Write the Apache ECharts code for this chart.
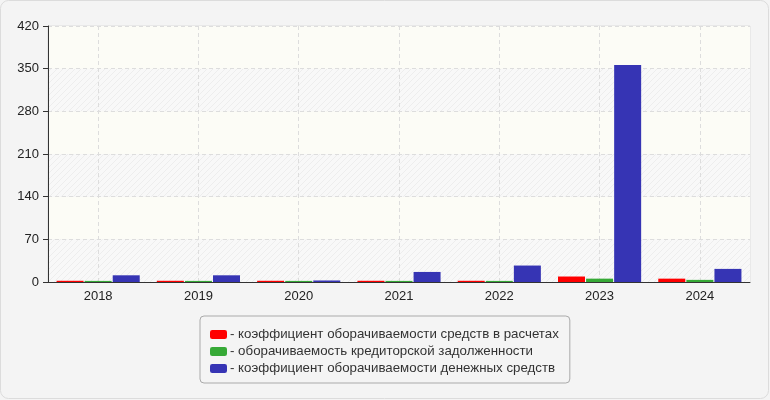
<!DOCTYPE html>
<html>
<head>
<meta charset="utf-8">
<script src="https://cdn.jsdelivr.net/npm/echarts@6/dist/echarts.min.js"></script>
<style>
  html, body { margin: 0; padding: 0; background: #f4f4f4; }
  #chart { width: 770px; height: 400px; }
</style>
</head>
<body>
<div id="chart"></div>
<script>
var years = ["2018", "2019", "2020", "2021", "2022", "2023", "2024"];
var names = [
  "коэффициент оборачиваемости средств в расчетах",
  "оборачиваемость кредиторской задолженности",
  "коэффициент оборачиваемости денежных средств"
];
var receivables = [2, 2, 2, 2, 2, 9, 5.5];
var payables = [1.8, 1.8, 1.8, 1.8, 1.8, 5.5, 3.5];
var cash = [11, 11, 2.5, 16.5, 27, 356, 21.5];
var colors = ["#ff0000", "#36a936", "#3634b4"];

// hatched fill for every other band
var hatch = document.createElement("canvas");
hatch.width = 6; hatch.height = 6;
var hc = hatch.getContext("2d");
hc.fillStyle = "#f8f8f8";
hc.fillRect(0, 0, 6, 6);
hc.strokeStyle = "#ededed";
hc.lineWidth = 1;
hc.beginPath();
hc.moveTo(0, 6); hc.lineTo(6, 0);
hc.moveTo(-3, 3); hc.lineTo(3, -3);
hc.moveTo(3, 9); hc.lineTo(9, 3);
hc.stroke();

var chart = echarts.init(document.getElementById("chart"));
var font = "Arial, 'Liberation Sans', sans-serif";

function bar(i, data) {
  return {
    name: names[i],
    type: "bar",
    data: data,
    barWidth: 27,
    barGap: "4%",
    itemStyle: { color: colors[i] },
    animation: false
  };
}

var option = {
  backgroundColor: "#f4f4f4",
  textStyle: { fontFamily: font },
  graphic: [{
    type: "rect",
    shape: { x: 0.5, y: 0.5, width: 768, height: 398, r: 8 },
    style: { fill: "none", stroke: "#dcdcdc", lineWidth: 1 },
    z: -1
  }],
  grid: {
    left: 48, right: 20, top: 26, bottom: 118,
    show: true, borderColor: "#dddddd", borderWidth: 1,
    backgroundColor: "transparent"
  },
  legend: {
    orient: "vertical",
    left: 200, top: 316,
    width: 368,
    padding: [12, 11, 8, 10],
    itemWidth: 17, itemHeight: 9,
    itemGap: 4,
    borderColor: "#aaaaaa", borderWidth: 1, borderRadius: 4,
    backgroundColor: "#f4f4f4",
    icon: "roundRect",
    itemStyle: { borderWidth: 0 },
    formatter: "- {name}",
    textStyle: { color: "#333", fontSize: 13.3, fontFamily: font, padding: [0, 0, 0, -2] },
    data: names
  },
  xAxis: {
    type: "category",
    data: years,
    axisLine: { lineStyle: { color: "#333", width: 1 } },
    axisTick: { alignWithLabel: true, length: 5, lineStyle: { color: "#333" } },
    axisLabel: { color: "#222", fontSize: 13, margin: 8 },
    splitLine: { show: true, alignWithLabel: true, lineStyle: { color: "#dddddd", type: [4, 3] } }
  },
  yAxis: {
    type: "value",
    min: 0, max: 420, interval: 70,
    axisLine: { show: true, lineStyle: { color: "#333", width: 1 } },
    axisTick: { show: true, length: 5, lineStyle: { color: "#333" } },
    axisLabel: { color: "#222", fontSize: 13, margin: 9 },
    splitLine: { show: true, lineStyle: { color: "#dddddd", type: [4, 3] } },
    splitArea: {
      show: true,
      areaStyle: { color: [{ image: hatch, repeat: "repeat" }, "#fcfcf6"] }
    }
  },
  series: [bar(0, receivables), bar(1, payables), bar(2, cash)]
};
chart.setOption(option);
</script>
</body>
</html>
